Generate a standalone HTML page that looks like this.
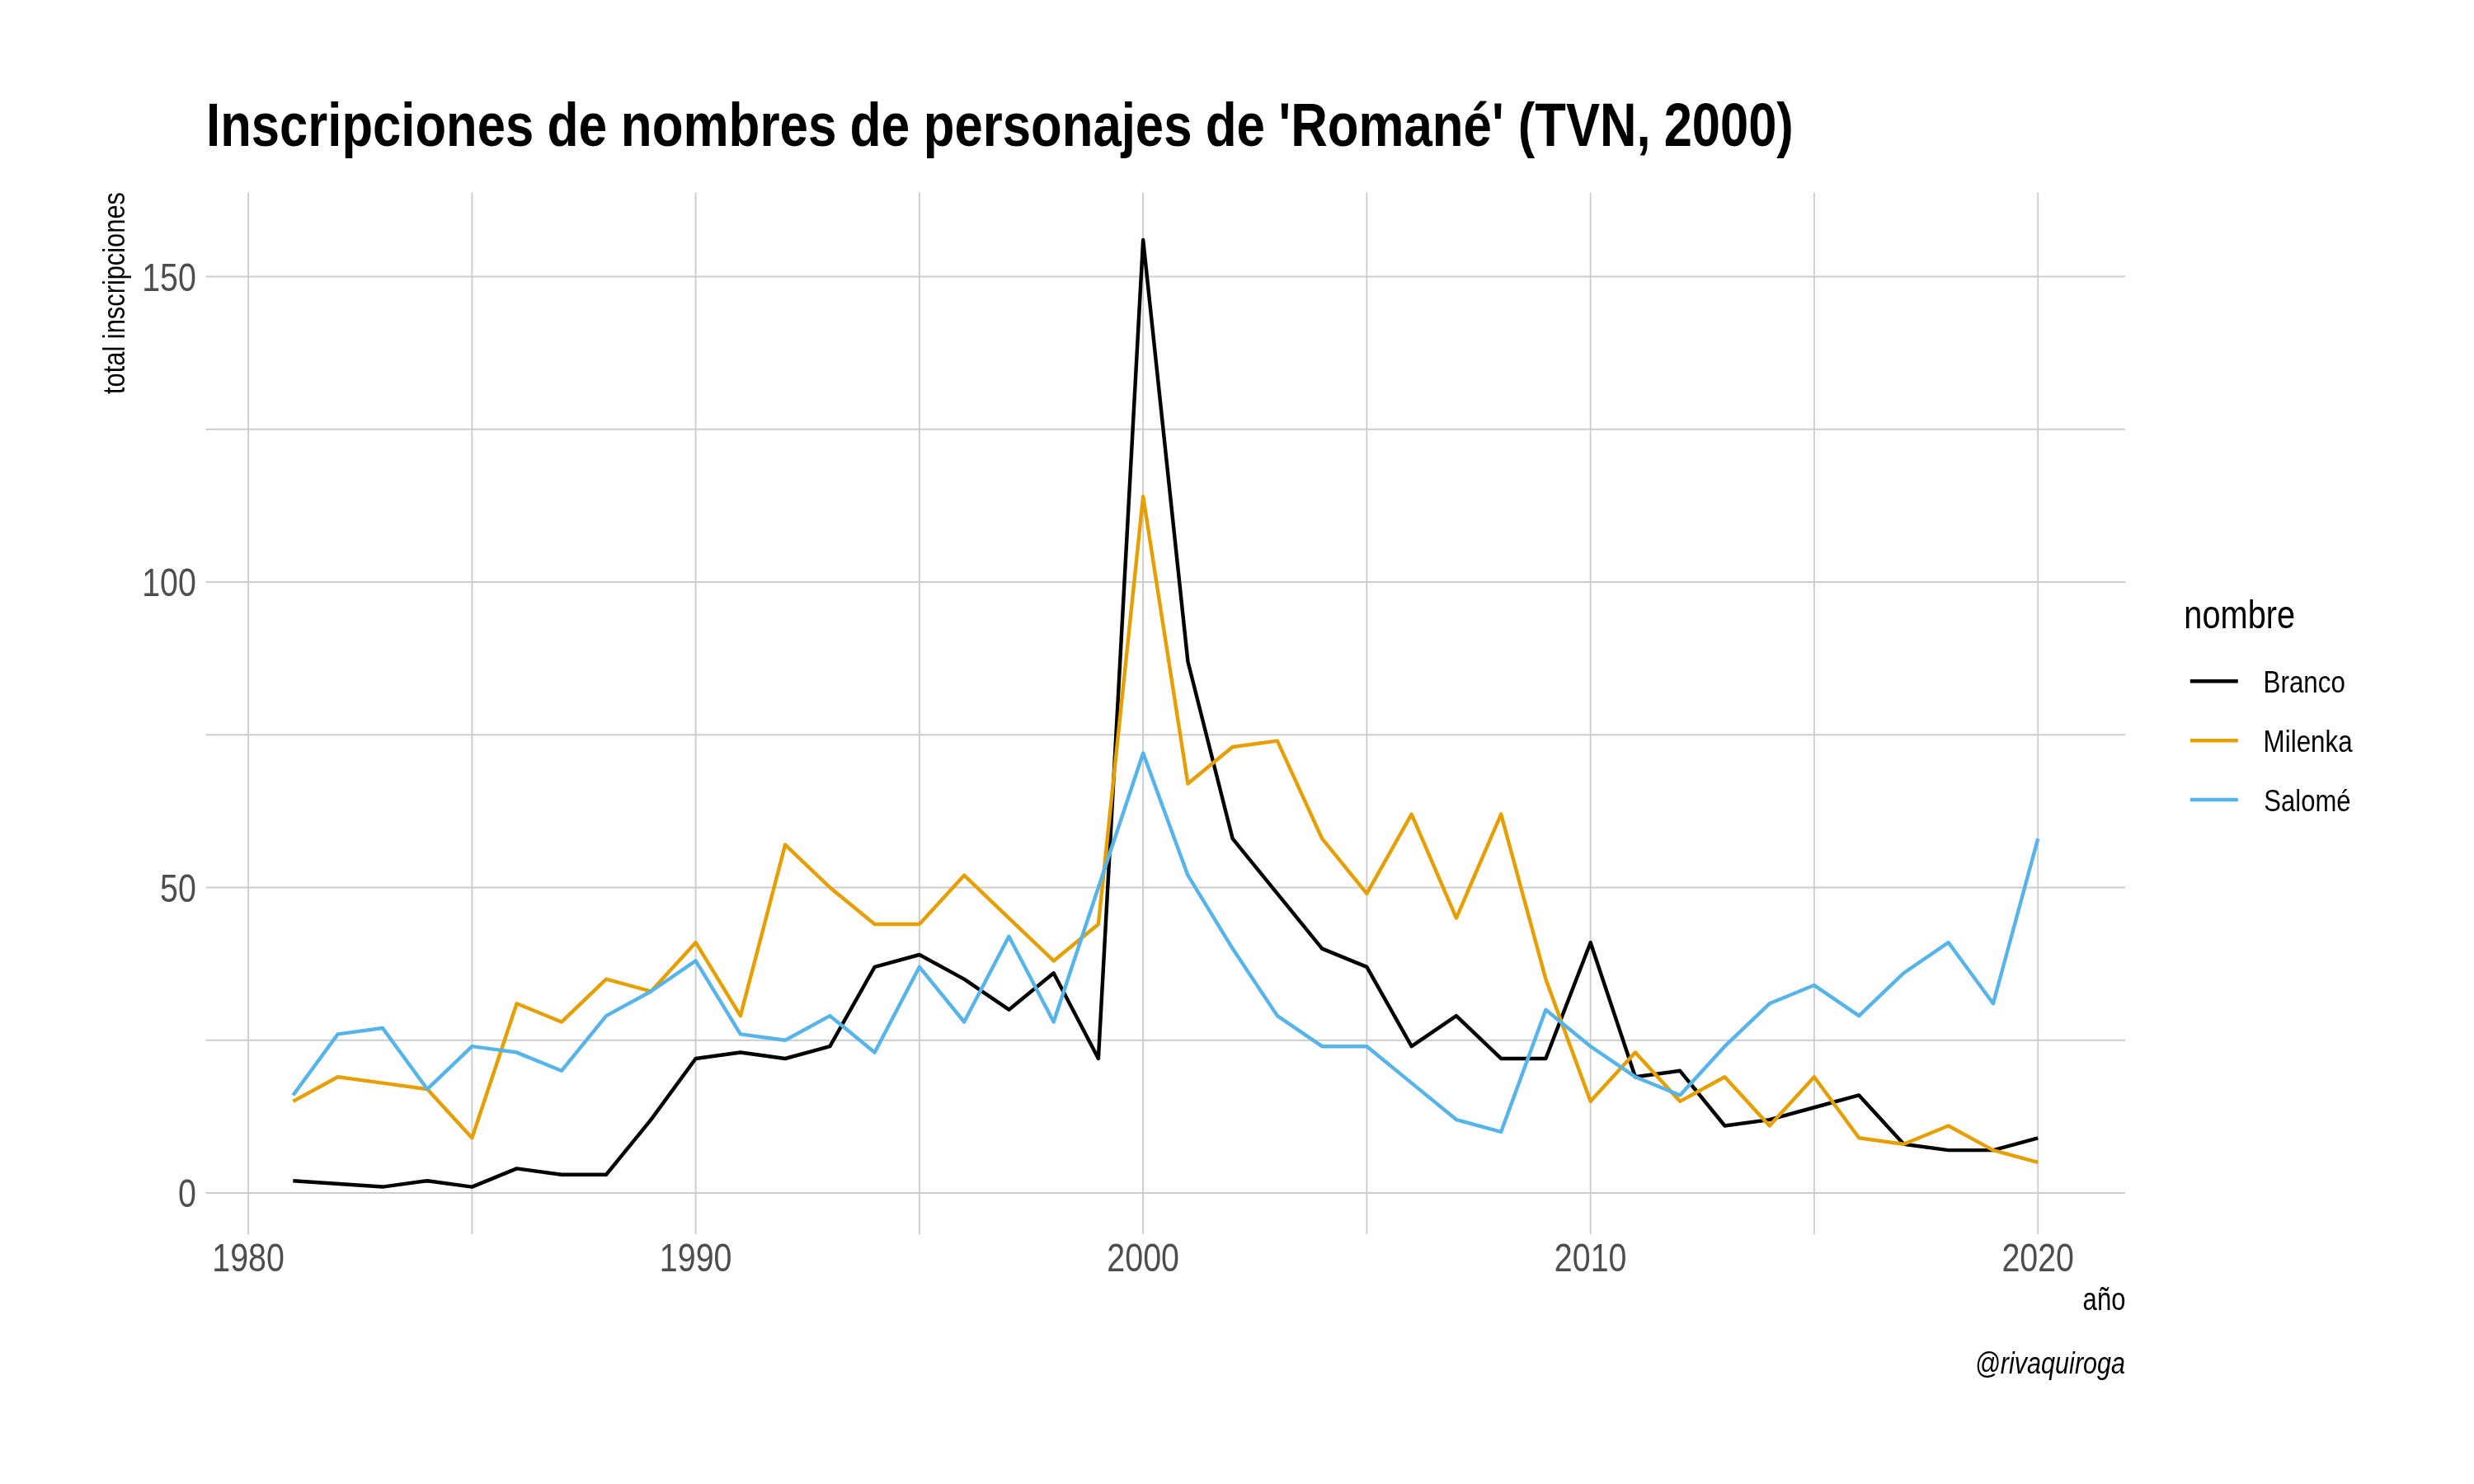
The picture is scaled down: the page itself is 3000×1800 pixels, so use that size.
<!DOCTYPE html>
<html><head><meta charset="utf-8"><style>
html,body{margin:0;padding:0;background:#fff;}
svg{display:block;will-change:transform;}
text{font-family:"Liberation Sans",sans-serif;}
</style></head><body>
<svg width="3000" height="1800" viewBox="0 0 3000 1800">
<rect width="3000" height="1800" fill="#fff"/>
<g stroke="#CCCCCC" stroke-width="1.8" fill="none">
<line x1="301.10" y1="233.61" x2="301.10" y2="1497.02"/>
<line x1="572.36" y1="233.61" x2="572.36" y2="1497.02"/>
<line x1="843.62" y1="233.61" x2="843.62" y2="1497.02"/>
<line x1="1114.89" y1="233.61" x2="1114.89" y2="1497.02"/>
<line x1="1386.15" y1="233.61" x2="1386.15" y2="1497.02"/>
<line x1="1657.41" y1="233.61" x2="1657.41" y2="1497.02"/>
<line x1="1928.67" y1="233.61" x2="1928.67" y2="1497.02"/>
<line x1="2199.94" y1="233.61" x2="2199.94" y2="1497.02"/>
<line x1="2471.20" y1="233.61" x2="2471.20" y2="1497.02"/>
<line x1="249.56" y1="1447.00" x2="2576.99" y2="1447.00"/>
<line x1="249.56" y1="1261.75" x2="2576.99" y2="1261.75"/>
<line x1="249.56" y1="1076.50" x2="2576.99" y2="1076.50"/>
<line x1="249.56" y1="891.25" x2="2576.99" y2="891.25"/>
<line x1="249.56" y1="706.00" x2="2576.99" y2="706.00"/>
<line x1="249.56" y1="520.75" x2="2576.99" y2="520.75"/>
<line x1="249.56" y1="335.50" x2="2576.99" y2="335.50"/>
</g>
<g fill="none" stroke-width="4.45" stroke-linejoin="round" stroke-linecap="butt">
<polyline stroke="#000000" points="355.35,1432.18 463.86,1439.59 518.11,1432.18 572.36,1439.59 626.62,1417.36 680.87,1424.77 735.12,1424.77 789.37,1358.08 843.62,1283.98 897.88,1276.57 952.13,1283.98 1006.38,1269.16 1060.63,1172.83 1114.89,1158.01 1169.14,1187.65 1223.39,1224.70 1277.64,1180.24 1331.90,1283.98 1386.15,291.04 1440.40,802.33 1494.65,1017.22 1548.91,1083.91 1603.16,1150.60 1657.41,1172.83 1711.66,1269.16 1765.92,1232.11 1820.17,1283.98 1874.42,1283.98 1928.67,1143.19 1982.93,1306.21 2037.18,1298.80 2091.43,1365.49 2145.68,1358.08 2199.94,1343.26 2254.19,1328.44 2308.44,1387.72 2362.69,1395.13 2416.95,1395.13 2471.20,1380.31"/>
<polyline stroke="#E69F00" points="355.35,1335.85 409.61,1306.21 463.86,1313.62 518.11,1321.03 572.36,1380.31 626.62,1217.29 680.87,1239.52 735.12,1187.65 789.37,1202.47 843.62,1143.19 897.88,1232.11 952.13,1024.63 1006.38,1076.50 1060.63,1120.96 1114.89,1120.96 1169.14,1061.68 1223.39,1113.55 1277.64,1165.42 1331.90,1120.96 1386.15,602.26 1440.40,950.53 1494.65,906.07 1548.91,898.66 1603.16,1017.22 1657.41,1083.91 1711.66,987.58 1765.92,1113.55 1820.17,987.58 1874.42,1187.65 1928.67,1335.85 1982.93,1276.57 2037.18,1335.85 2091.43,1306.21 2145.68,1365.49 2199.94,1306.21 2254.19,1380.31 2308.44,1387.72 2362.69,1365.49 2416.95,1395.13 2471.20,1409.95"/>
<polyline stroke="#56B4E9" points="355.35,1328.44 409.61,1254.34 463.86,1246.93 518.11,1321.03 572.36,1269.16 626.62,1276.57 680.87,1298.80 735.12,1232.11 789.37,1202.47 843.62,1165.42 897.88,1254.34 952.13,1261.75 1006.38,1232.11 1060.63,1276.57 1114.89,1172.83 1169.14,1239.52 1223.39,1135.78 1277.64,1239.52 1331.90,1076.50 1386.15,913.48 1440.40,1061.68 1494.65,1150.60 1548.91,1232.11 1603.16,1269.16 1657.41,1269.16 1711.66,1313.62 1765.92,1358.08 1820.17,1372.90 1874.42,1224.70 1928.67,1269.16 1982.93,1306.21 2037.18,1328.44 2091.43,1269.16 2145.68,1217.29 2199.94,1195.06 2254.19,1232.11 2308.44,1180.24 2362.69,1143.19 2416.95,1217.29 2471.20,1017.22"/>
</g>
<line x1="2655.8" y1="826.3" x2="2713.8" y2="826.3" stroke="#000000" stroke-width="4.45"/>
<line x1="2655.8" y1="898.3" x2="2713.8" y2="898.3" stroke="#E69F00" stroke-width="4.45"/>
<line x1="2655.8" y1="970.0" x2="2713.8" y2="970.0" stroke="#56B4E9" stroke-width="4.45"/>
<text transform="translate(250.10,176.90) scale(0.3080,0.3703)" font-size="200" font-weight="bold" font-style="normal" fill="#000" text-anchor="start">Inscripciones</text>
<text transform="translate(663.51,176.90) scale(0.3119,0.3703)" font-size="200" font-weight="bold" font-style="normal" fill="#000" text-anchor="start">de</text>
<text transform="translate(752.77,176.90) scale(0.3100,0.3703)" font-size="200" font-weight="bold" font-style="normal" fill="#000" text-anchor="start">nombres</text>
<text transform="translate(1030.51,176.90) scale(0.3119,0.3703)" font-size="200" font-weight="bold" font-style="normal" fill="#000" text-anchor="start">de</text>
<text transform="translate(1119.79,176.90) scale(0.3084,0.3703)" font-size="200" font-weight="bold" font-style="normal" fill="#000" text-anchor="start">personajes</text>
<text transform="translate(1461.72,176.90) scale(0.3100,0.3703)" font-size="200" font-weight="bold" font-style="normal" fill="#000" text-anchor="start">de</text>
<text transform="translate(1550.50,176.90) scale(0.3090,0.3703)" font-size="200" font-weight="bold" font-style="normal" fill="#000" text-anchor="start">&#39;Romané&#39;</text>
<text transform="translate(1840.72,176.90) scale(0.3082,0.3703)" font-size="200" font-weight="bold" font-style="normal" fill="#000" text-anchor="start">(TVN,</text>
<text transform="translate(2017.65,176.90) scale(0.3073,0.3703)" font-size="200" font-weight="bold" font-style="normal" fill="#000" text-anchor="start">2000)</text>
<text transform="translate(172.18,352.60) scale(0.1970,0.2360)" font-size="200" font-weight="normal" font-style="normal" fill="#4D4D4D" text-anchor="start">150</text>
<text transform="translate(172.18,723.10) scale(0.1970,0.2360)" font-size="200" font-weight="normal" font-style="normal" fill="#4D4D4D" text-anchor="start">100</text>
<text transform="translate(194.05,1093.60) scale(0.1970,0.2360)" font-size="200" font-weight="normal" font-style="normal" fill="#4D4D4D" text-anchor="start">50</text>
<text transform="translate(216.11,1464.10) scale(0.1970,0.2360)" font-size="200" font-weight="normal" font-style="normal" fill="#4D4D4D" text-anchor="start">0</text>
<text transform="translate(301.10,1541.90) scale(0.1970,0.2360)" font-size="200" font-weight="normal" font-style="normal" fill="#4D4D4D" text-anchor="middle">1980</text>
<text transform="translate(843.62,1541.90) scale(0.1970,0.2360)" font-size="200" font-weight="normal" font-style="normal" fill="#4D4D4D" text-anchor="middle">1990</text>
<text transform="translate(1386.15,1541.90) scale(0.1970,0.2360)" font-size="200" font-weight="normal" font-style="normal" fill="#4D4D4D" text-anchor="middle">2000</text>
<text transform="translate(1928.67,1541.90) scale(0.1970,0.2360)" font-size="200" font-weight="normal" font-style="normal" fill="#4D4D4D" text-anchor="middle">2010</text>
<text transform="translate(2471.20,1541.90) scale(0.1970,0.2360)" font-size="200" font-weight="normal" font-style="normal" fill="#4D4D4D" text-anchor="middle">2020</text>
<text transform="translate(151.10,477.96) rotate(-90) scale(0.1541,0.1855)" font-size="200" font-weight="normal" font-style="normal" fill="#000" text-anchor="start">total inscripciones</text>
<text transform="translate(2525.60,1589.00) scale(0.1554,0.1896)" font-size="200" font-weight="normal" font-style="normal" fill="#000" text-anchor="start">año</text>
<text transform="translate(2394.80,1665.80) scale(0.1529,0.1875)" font-size="200" font-weight="normal" font-style="italic" fill="#000" text-anchor="start">@rivaquiroga</text>
<text transform="translate(2648.32,762.40) scale(0.1988,0.2428)" font-size="200" font-weight="normal" font-style="normal" fill="#000" text-anchor="start">nombre</text>
<text transform="translate(2744.59,840.10) scale(0.1567,0.1870)" font-size="200" font-weight="normal" font-style="normal" fill="#000" text-anchor="start">Branco</text>
<text transform="translate(2744.59,912.10) scale(0.1568,0.1870)" font-size="200" font-weight="normal" font-style="normal" fill="#000" text-anchor="start">Milenka</text>
<text transform="translate(2745.30,983.50) scale(0.1552,0.1870)" font-size="200" font-weight="normal" font-style="normal" fill="#000" text-anchor="start">Salomé</text>
</svg>
</body></html>
